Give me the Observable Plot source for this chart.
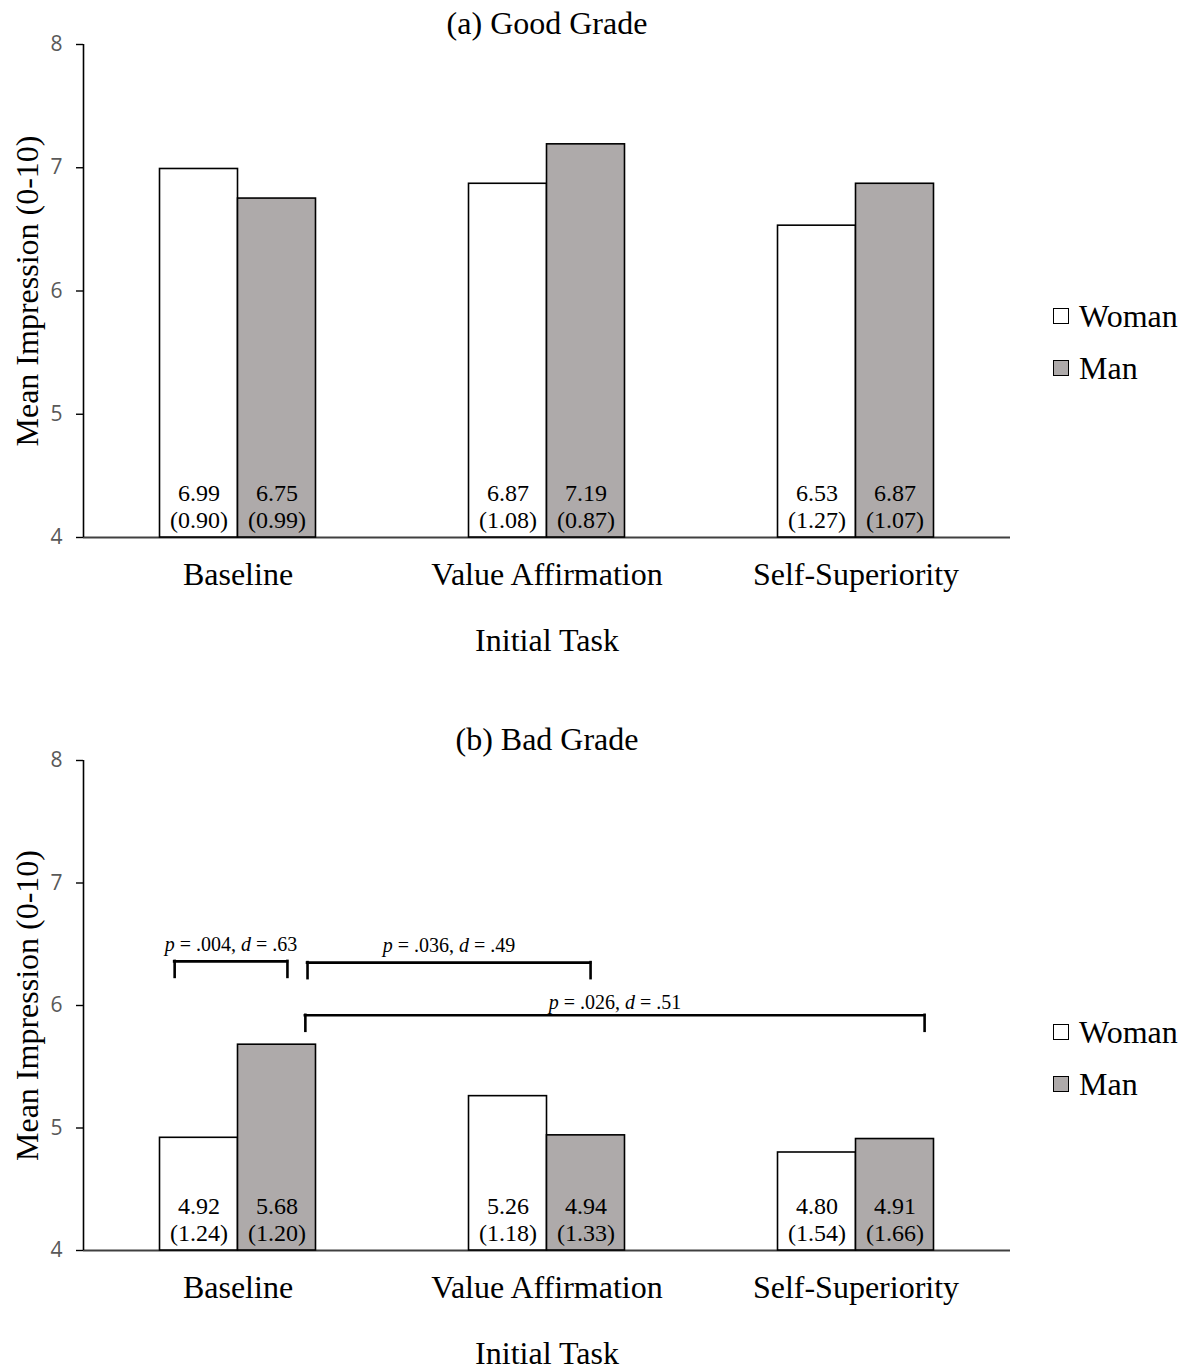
<!DOCTYPE html>
<html>
<head>
<meta charset="utf-8">
<script src="https://cdn.jsdelivr.net/npm/d3@7"></script>
<script src="https://cdn.jsdelivr.net/npm/@observablehq/plot@0.6"></script>
<style>
  html, body { margin: 0; padding: 0; background: #fff; }
  #root { position: relative; width: 1189px; height: 1372px; overflow: hidden; }
  .panel { position: absolute; left: 0; width: 1189px; }
  .legend { position: absolute; left: 1053px; font-family: "Liberation Serif", "Times New Roman", serif; font-size: 32px; color: #000; }
  .legend .item { position: absolute; left: 0; white-space: nowrap; height: 34px; line-height: 34px; }
  .legend .sw { position: absolute; left: 0; top: 9px; width: 14px; height: 14px; border: 1.6px solid #000; }
  .legend .lab { position: absolute; left: 26px; top: 0; }
</style>
</head>
<body>
<div id="root"></div>
<script>
// ---------------- data ----------------
const categories = ["Baseline", "Value Affirmation", "Self-Superiority"];
const genders = ["Woman", "Man"];
const genderFill = ["#ffffff", "#aeaaaa"];

const panelTitles = ["(a) Good Grade", "(b) Bad Grade"];
const xTitle = ["Initial Task"];
const yTitle = ["Mean Impression (0-10)"];
const yTicks = [4, 5, 6, 7, 8];

// means and SDs per category, [Woman, Man]
const goodMeans = [[6.99, 6.75], [6.87, 7.19], [6.53, 6.87]];
const goodSDs   = [[0.90, 0.99], [1.08, 0.87], [1.27, 1.07]];
const badMeans  = [[4.92, 5.68], [5.26, 4.94], [4.80, 4.91]];
const badSDs    = [[1.24, 1.20], [1.18, 1.33], [1.54, 1.66]];

// significance brackets for panel (b), in data units (x: category index space)
const bracketLabels = ["p = .004, d = .63", "p = .036, d = .49", "p = .026, d = .51"];
const bracketX1 = [0.295, 0.725, 0.718];
const bracketX2 = [0.660, 1.641, 2.722];
const bracketY  = [6.36, 6.35, 5.92];
const bracketLabelY = [6.50, 6.49, 6.025];

// ---------------- layout / style ----------------
const SERIF = '"Liberation Serif", "Times New Roman", serif';
const SANS = '"Open Sans", "Noto Sans", sans-serif';
const barWidth = 0.2524; // fraction of a category slot

function rowsFor(means, sds) {
  const rows = [];
  categories.forEach((c, i) => {
    genders.forEach((g, j) => {
      const x1 = j === 0 ? i + 0.5 - barWidth : i + 0.5;
      rows.push({
        category: c, gender: g, mean: means[i][j], sd: sds[i][j],
        x1, x2: x1 + barWidth, xc: x1 + barWidth / 2, fill: genderFill[j]
      });
    });
  });
  return rows;
}

function makePanel({top, height, marginBottom, rows, title, brackets}) {
  const marks = [
    Plot.ruleY([yTicks[0]], {stroke: "#404040", strokeWidth: 2}),
    Plot.rectY(rows, {
      x1: "x1", x2: "x2", y1: () => yTicks[0], y2: "mean",
      fill: "fill", stroke: "#000", strokeWidth: 1.6
    }),
    Plot.ruleX([0], {y1: yTicks[0], y2: yTicks[yTicks.length - 1], stroke: "#000", strokeWidth: 1.6}),
    Plot.axisY(yTicks, {
      tickSize: 7, tickPadding: 14, fontSize: 21, fontFamily: SANS,
      color: "#595959", stroke: "#000", strokeWidth: 1.4, label: null,
      tickFormat: d => String(d)
    }),
    Plot.axisX(categories.map((c, i) => i + 0.5), {
      tickSize: 0, tickPadding: 25, fontSize: 32, fontFamily: SERIF,
      color: "#000", tickFormat: d => categories[Math.floor(d)], label: null
    }),
    Plot.text(rows, {
      x: "xc", y: () => yTicks[0],
      text: d => `${d.mean.toFixed(2)}\n(${d.sd.toFixed(2)})`,
      lineAnchor: "bottom", lineHeight: 1.12, dy: -10,
      fontSize: 24, fontFamily: SERIF, fill: "#000"
    }),
    Plot.text([title], {
      frameAnchor: "top", lineAnchor: "bottom", dy: -11,
      fontSize: 32, fontFamily: SERIF, fill: "#000"
    }),
    Plot.text(xTitle, {
      frameAnchor: "bottom", lineAnchor: "bottom", dy: 113,
      fontSize: 32, fontFamily: SERIF, fill: "#000"
    }),
    Plot.text(yTitle, {
      frameAnchor: "left", textAnchor: "middle", rotate: -90, dx: -56,
      fontSize: 32, fontFamily: SERIF, fill: "#000"
    })
  ];
  if (brackets) {
    marks.push(
      Plot.ruleY(brackets, {y: "y", x1: "x1", x2: "x2", stroke: "#000", strokeWidth: 2.6, strokeLinecap: "square"}),
      Plot.ruleX(brackets, {x: "x1", y1: "y", y2: "y", insetBottom: -16, stroke: "#000", strokeWidth: 2.6, strokeLinecap: "square"}),
      Plot.ruleX(brackets, {x: "x2", y1: "y", y2: "y", insetBottom: -16, stroke: "#000", strokeWidth: 2.6, strokeLinecap: "square"}),
      Plot.text(brackets, {
        x: d => (d.x1 + d.x2) / 2, y: "ly", text: "label",
        fontSize: 20, fontFamily: SERIF, fill: "#000"
      })
    );
  }
  const svg = Plot.plot({
    width: 1189, height,
    marginLeft: 83, marginRight: 179, marginTop: 44, marginBottom,
    style: {fontFamily: SERIF, background: "#fff", overflow: "visible"},
    x: {domain: [0, categories.length], axis: null},
    y: {domain: [yTicks[0], yTicks[yTicks.length - 1]], axis: null},
    marks
  });
  // italicise p and d in the bracket labels
  svg.querySelectorAll("text").forEach(t => {
    if (t.children.length === 0 && /^p = /.test(t.textContent)) {
      const s = t.textContent;
      t.textContent = "";
      const parts = s.split(/([pd])(?= =)/).filter(x => x !== "");
      parts.forEach(p => {
        const ts = document.createElementNS("http://www.w3.org/2000/svg", "tspan");
        ts.textContent = p;
        if (p === "p" || p === "d") ts.setAttribute("font-style", "italic");
        t.appendChild(ts);
      });
    }
  });

  const panel = document.createElement("div");
  panel.className = "panel";
  panel.style.top = top + "px";
  panel.appendChild(svg);

  const legend = document.createElement("div");
  legend.className = "legend";
  legend.style.top = "0px";
  genders.forEach((g, j) => {
    const item = document.createElement("div");
    item.className = "item";
    item.style.top = (299 + j * 52) + "px";
    const sw = document.createElement("span");
    sw.className = "sw";
    sw.style.background = genderFill[j];
    const lab = document.createElement("span");
    lab.className = "lab";
    lab.textContent = g;
    item.appendChild(sw);
    item.appendChild(lab);
    legend.appendChild(item);
  });
  panel.appendChild(legend);
  return panel;
}

const brackets = bracketLabels.map((label, i) => ({
  label, x1: bracketX1[i], x2: bracketX2[i], y: bracketY[i], ly: bracketLabelY[i]
}));

const root = document.getElementById("root");
root.appendChild(makePanel({
  top: 0, height: 667, marginBottom: 130,
  rows: rowsFor(goodMeans, goodSDs), title: panelTitles[0]
}));
root.appendChild(makePanel({
  top: 716, height: 656, marginBottom: 122,
  rows: rowsFor(badMeans, badSDs), title: panelTitles[1], brackets
}));
</script>
</body>
</html>
